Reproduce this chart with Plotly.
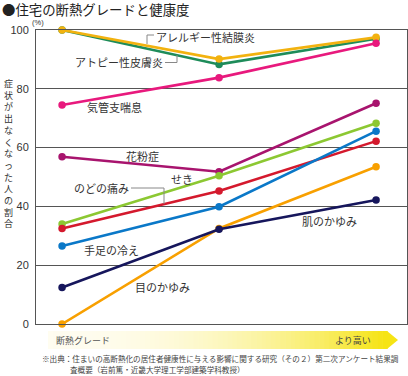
import plotly.graph_objects as go

# ---- data ----
grades = [0, 1, 2]
series_names = ["アトピー性皮膚炎", "アレルギー性結膜炎", "気管支喘息", "花粉症", "せき",
                "のどの痛み", "手足の冷え", "目のかゆみ", "肌のかゆみ"]
atopy = [100, 88.3, 97.0]
allergy_conj = [100, 90.1, 97.5]
asthma = [74.5, 83.8, 95.5]
hay_fever = [56.9, 51.8, 75.1]
cough = [34.0, 50.4, 68.3]
sore_throat = [32.5, 45.2, 62.2]
cold_limbs = [26.5, 39.9, 65.6]
itchy_eyes = [0, 32.5, 53.5]
itchy_skin = [12.4, 32.2, 42.2]
y_ticks = [0, 20, 40, 60, 80, 100]

values = [atopy, allergy_conj, asthma, hay_fever, cough, sore_throat, cold_limbs, itchy_eyes, itchy_skin]
colors = ["#1e8c5a", "#f2b20f", "#e8197d", "#a8146e", "#8cc832", "#d4192d", "#0a78c8", "#f8a000", "#16165c"]

W, H = 408, 376
ML, MR, MT, MB = 36, 1, 30, 52
PW = W - ML - MR
PH = H - MT - MB


def px(xp):
    return (xp - ML) / PW


def py(yp):
    return (H - MB - yp) / PH


fig = go.Figure()
for name, vals, col in zip(series_names, values, colors):
    fig.add_trace(go.Scatter(
        x=grades, y=vals, name=name, mode="lines+markers",
        line=dict(color=col, width=2.6),
        marker=dict(color=col, size=7.5),
        cliponaxis=False, showlegend=False, hoverinfo="skip"))

font_jp = "Noto Sans CJK JP"
txt_col = "#333333"

fig.update_layout(
    width=W, height=H,
    margin=dict(l=ML, r=MR, t=MT, b=MB),
    paper_bgcolor="white", plot_bgcolor="white",
    xaxis=dict(range=[-0.166, 2.197], showgrid=False, zeroline=False,
               showticklabels=False, showline=True, linecolor="#555555",
               linewidth=1, mirror=True, fixedrange=True),
    yaxis=dict(range=[0, 100], tickvals=y_ticks, ticktext=[str(v) for v in y_ticks],
               showgrid=True, gridcolor="#555555", gridwidth=1, zeroline=False,
               showline=True, linecolor="#555555", linewidth=1, mirror=True,
               ticks="", ticklabelstandoff=4,
               tickfont=dict(family="Liberation Sans, Arial", size=11, color=txt_col),
               fixedrange=True),
)

annotations = []


def add_text(text, xc, yc, size=11, anchor="center", color=txt_col, family=font_jp, pad=1):
    annotations.append(dict(text=text, x=px(xc), y=py(yc), xref="paper", yref="paper",
                            xanchor=anchor, yanchor="middle", showarrow=False, borderpad=pad,
                            font=dict(family=family, size=size, color=color)))


# title
add_text("●住宅の断熱グレードと健康度", 1, 9.2, size=13.4, anchor="left", color="#222222", pad=0)
add_text("(%)", 38, 22.8, size=7.5, family="Liberation Sans, Arial", pad=0)

# vertical y-axis title (one character per line)
ytitle = "症状が出なくなった人の割合"
add_text("<br>".join(ytitle), 8.5, 153.5, size=9)

# series labels
add_text("アレルギー性結膜炎", 205, 37)
add_text("アトピー性皮膚炎", 119, 62.5)
add_text("気管支喘息", 114, 107)
add_text("花粉症", 142, 156)
add_text("せき", 181.5, 179)
add_text("のどの痛み", 101, 188)
add_text("手足の冷え", 111, 250)
add_text("目のかゆみ", 162, 287)
add_text("肌のかゆみ", 329, 221)

# bottom arrow labels
add_text("断熱グレード", 54, 340.5, size=9, anchor="left", color="#555555")
add_text("より高い", 353, 340.5, size=9, color="#444444")

# source
add_text("※出典：住まいの高断熱化の居住者健康性に与える影響に関する研究（その２）第二次アンケート結果調",
         40, 358, size=7.6, anchor="left", color="#444444")
add_text("査概要（岩前篤・近畿大学理工学部建築学科教授）", 68, 369.5, size=7.6, anchor="left", color="#444444")

fig.update_layout(annotations=annotations)

shapes = []
# leader lines
lead = dict(color="#888888", width=1)


def seg(x0, y0, x1, y1):
    shapes.append(dict(type="line", xref="paper", yref="paper",
                       x0=px(x0), y0=py(y0), x1=px(x1), y1=py(y1), line=lead))


seg(154, 35, 147, 35)
seg(147, 35, 147, 44)
seg(165, 62.5, 177, 62.5)
seg(177, 62.5, 177, 55)
seg(131, 188, 164, 188)
seg(164, 188, 164, 204)

# gradient arrow bar
x_start, x_end, x_tip = 48, 387, 398
y_top, y_bot = 331, 349
n = 70
c0 = (255, 253, 240)
c1 = (246, 228, 20)
for i in range(n):
    t = i / (n - 1)
    tt = t ** 2.2
    r = int(c0[0] + (c1[0] - c0[0]) * tt)
    g = int(c0[1] + (c1[1] - c0[1]) * tt)
    b = int(c0[2] + (c1[2] - c0[2]) * tt)
    xa = x_start + (x_end - x_start) * i / n
    xb = x_start + (x_end - x_start) * (i + 1) / n + 0.6
    shapes.append(dict(type="rect", xref="paper", yref="paper",
                       x0=px(xa), x1=px(xb), y0=py(y_bot), y1=py(y_top),
                       fillcolor=f"rgb({r},{g},{b})", line=dict(width=0), layer="below"))
shapes.append(dict(type="path", xref="paper", yref="paper",
                   path=f"M {px(x_end)} {py(y_top)} L {px(x_tip)} {py((y_top + y_bot) / 2)} L {px(x_end)} {py(y_bot)} Z",
                   fillcolor="rgb(246,228,20)", line=dict(width=0), layer="below"))

fig.update_layout(shapes=shapes)

fig.write_html("out.html", config={"displayModeBar": False},
               post_script="document.body.style.margin='0';document.body.style.overflow='hidden';")
